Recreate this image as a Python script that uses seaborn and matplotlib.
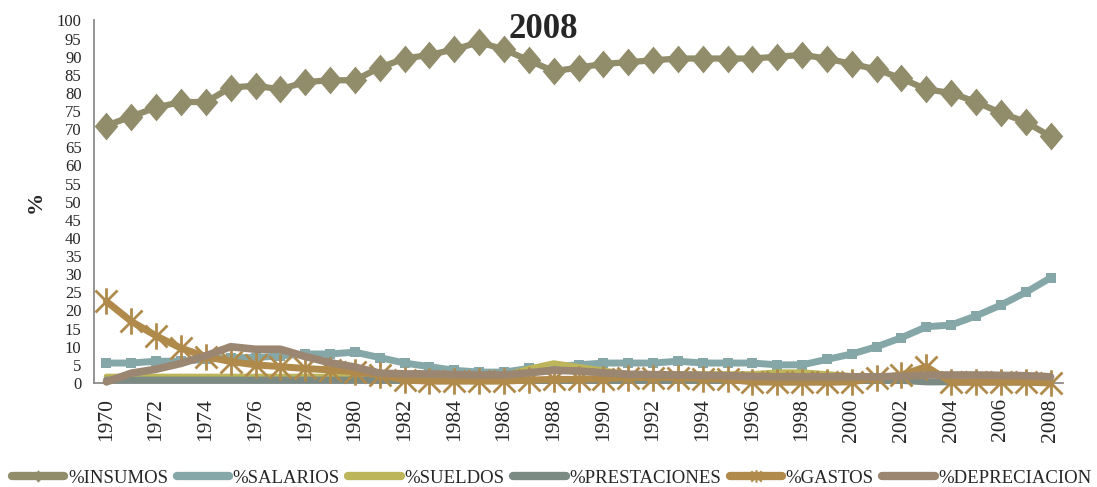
import matplotlib
matplotlib.use("Agg")
import matplotlib.pyplot as plt
import seaborn as sns
import pandas as pd
from matplotlib.path import Path
from matplotlib.lines import Line2D

# Shares of production cost by component, 1970-2008 (%)
years = list(range(1970, 2009))

insumos = [71, 73.5, 76, 77.5, 77.5, 81.5, 82, 81, 83, 83.5,
           83.5, 87, 89.5, 90.5, 92, 94, 92, 89, 86, 87,
           88, 88.5, 89, 89.5, 89.5, 89.5, 89.5, 90, 90.5, 89.5,
           88, 86.5, 84, 81, 80, 77.5, 74.5, 72, 68]
salarios = [5.5, 5.5, 6, 6, 6.5, 7, 7, 7.5, 8, 8,
            8.5, 7, 5.5, 4.5, 3.5, 3, 3, 4, 4.5, 5,
            5.5, 5.5, 5.5, 6, 5.5, 5.5, 5.5, 5, 5, 6.5,
            8, 10, 12.5, 15.5, 16, 18.5, 21.5, 25, 29]
sueldos = [1.8, 1.8, 1.8, 1.8, 1.8, 1.8, 1.8, 1.8, 1.8, 1.8,
           1.8, 1.5, 1.5, 1.5, 1.5, 1.5, 2, 4, 5.5, 4.5,
           3.5, 2.5, 2.5, 2.5, 2.5, 2.5, 2.5, 3, 3, 2.5,
           2, 1.5, 1, 0.3, 0.3, 0.3, 0.3, 0.3, 0.3]
prestaciones = [0.8, 0.8, 0.8, 0.8, 0.8, 0.8, 0.8, 0.8, 0.8, 0.8,
                0.8, 0.8, 0.7, 0.7, 0.7, 0.7, 0.7, 0.7, 0.7, 0.7,
                0.7, 0.7, 0.7, 0.7, 0.7, 0.7, 0.7, 0.7, 0.7, 0.7,
                0.7, 0.7, 0.7, 0.3, 0.3, 0.3, 0.3, 0.3, 0.3]
gastos = [22.5, 17, 13, 9.6, 7.3, 5.9, 5, 4.5, 4, 3.6,
          3.1, 2.2, 0.8, 0.5, 0.5, 0.5, 0.5, 0.8, 1, 1,
          1.2, 1.5, 1.5, 1.5, 1.2, 1, 0.3, 0.2, 0.2, 0.2,
          0.3, 1.4, 2.2, 4.5, 0.2, 0.2, 0.2, 0.2, 0]
depreciacion = [0.3, 2.7, 3.8, 5.4, 7.5, 10, 9.3, 9.3, 7.3, 5.6,
                4.4, 2.7, 2.5, 2.5, 2.3, 2.2, 2.2, 2.8, 3.5, 3.3,
                2.8, 2.4, 2.3, 2.2, 2.1, 2, 1.8, 1.7, 1.7, 1.7,
                1.7, 1.7, 1.8, 2.2, 2.2, 2.2, 2.1, 2, 1.7]

labels = ["%INSUMOS", "%SALARIOS", "%SUELDOS", "%PRESTACIONES", "%GASTOS", "%DEPRECIACION"]
colors = ["#918D6A", "#86A7A8", "#BCB55A", "#7B8B84", "#B08A4B", "#9B8672"]
y_ticks = list(range(0, 101, 5))
x_ticks = list(range(1970, 2009, 2))

df = pd.DataFrame({"year": years, "%INSUMOS": insumos, "%SALARIOS": salarios,
                   "%SUELDOS": sueldos, "%PRESTACIONES": prestaciones,
                   "%GASTOS": gastos, "%DEPRECIACION": depreciacion})

sns.set_theme(style="white")
plt.rcParams["font.family"] = ["Liberation Serif", "DejaVu Serif"]

# marker shapes
diamond = Path([(0, 1), (0.85, 0), (0, -1), (-0.85, 0), (0, 1)],
               [Path.MOVETO, Path.LINETO, Path.LINETO, Path.LINETO, Path.CLOSEPOLY])
asterisk = Path([(-1, -1), (1, 1), (-1, 1), (1, -1), (0, -1.2), (0, 1.2)],
                [Path.MOVETO, Path.LINETO, Path.MOVETO, Path.LINETO, Path.MOVETO, Path.LINETO])

styles = {
    "%INSUMOS": dict(lw=4.5, marker=diamond, markersize=20, mew=0),
    "%SALARIOS": dict(lw=5, marker="s", markersize=6.5, mew=0),
    "%SUELDOS": dict(lw=4, marker=None),
    "%PRESTACIONES": dict(lw=5, marker=None),
    "%GASTOS": dict(lw=5, marker=asterisk, markersize=19, mew=2,
                    markerfacecolor="none"),
    "%DEPRECIACION": dict(lw=5.5, marker=None),
}

fig = plt.figure(figsize=(10.97, 4.87), dpi=100)
ax = fig.add_axes([0.0857, 0.2136, 0.8833, 0.7444])

for i, (lab, col) in enumerate(zip(labels, colors)):
    st = dict(styles[lab])
    sns.lineplot(data=df, x="year", y=lab, ax=ax, color=col, legend=False,
                 clip_on=False, solid_capstyle="round", zorder=3 + i,
                 markeredgecolor=col, **st)

ax.set_xlim(1969.5, 2008.5)
ax.set_ylim(0, 100)
ax.set_yticks(y_ticks)
ax.set_yticklabels([str(v) for v in y_ticks], fontsize=12, color="#262626")
ax.set_xticks(x_ticks)
ax.set_xticklabels([str(v) for v in x_ticks], rotation=90, fontsize=15.5, color="#262626")
ax.tick_params(axis="y", length=0, pad=9)
ax.tick_params(axis="x", length=0, pad=11)
ax.set_xlabel("")
ax.set_ylabel("%", fontsize=16, fontweight="bold", color="#262626")
ax.yaxis.set_label_coords(-0.05, 0.5)

for side in ["top", "right"]:
    ax.spines[side].set_visible(False)
for side in ["left", "bottom"]:
    ax.spines[side].set_color("#8C8C8C")
    ax.spines[side].set_linewidth(1.3)

fig.text(0.495, 0.94, "2008", ha="center", va="center", fontsize=25,
         fontweight="bold", color="#262626")

handles = []
for lab, col in zip(labels, colors):
    st = styles[lab]
    ms = {"%INSUMOS": 9, "%SALARIOS": 6, "%GASTOS": 9}.get(lab, 0)
    handles.append(Line2D([], [], color=col, lw=6, solid_capstyle="round",
                          marker=st.get("marker"), markersize=ms,
                          markeredgecolor=col, mew=st.get("mew", 0) if lab != "%GASTOS" else 1.5,
                          markerfacecolor=st.get("markerfacecolor", col)))
fig.legend(handles, labels, loc="center", bbox_to_anchor=(0.503, 0.018), ncol=6,
           frameon=False, fontsize=13.5, handlelength=2.8, handletextpad=0.2,
           columnspacing=0.45, borderpad=0, borderaxespad=0)

fig.savefig("out.png", dpi=100)
